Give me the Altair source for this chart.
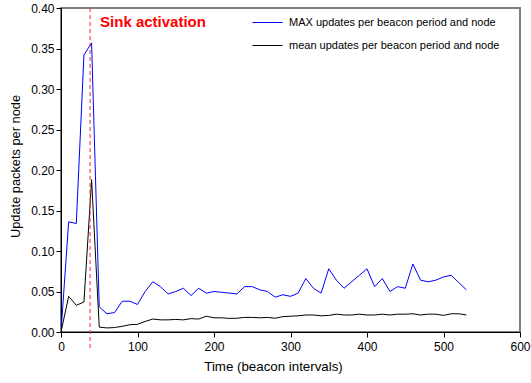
import altair as alt
import pandas as pd

# Time axis (beacon intervals) and the two measured series
time = list(range(0, 540, 10))

max_updates = [
    0.0, 0.136, 0.134, 0.342, 0.357, 0.031, 0.0225, 0.024, 0.038, 0.038,
    0.034, 0.050, 0.062, 0.056, 0.047, 0.050, 0.054, 0.045, 0.054, 0.048,
    0.050, 0.049, 0.048, 0.047, 0.056, 0.056, 0.052, 0.050, 0.043, 0.046,
    0.044, 0.048, 0.066, 0.054, 0.048, 0.078, 0.064, 0.054, 0.062, 0.070,
    0.078, 0.056, 0.066, 0.050, 0.056, 0.054, 0.084, 0.064, 0.062, 0.064,
    0.068, 0.070, 0.061, 0.052,
]

mean_updates = [
    0.0, 0.044, 0.033, 0.037, 0.188, 0.006, 0.005, 0.0055, 0.007, 0.009,
    0.0095, 0.013, 0.016, 0.015, 0.015, 0.0155, 0.015, 0.0165, 0.016, 0.0195,
    0.0175, 0.0175, 0.0168, 0.017, 0.018, 0.018, 0.0175, 0.018, 0.017, 0.019,
    0.0195, 0.020, 0.021, 0.021, 0.020, 0.0205, 0.022, 0.021, 0.021, 0.022,
    0.021, 0.021, 0.022, 0.021, 0.022, 0.022, 0.0225, 0.021, 0.022, 0.022,
    0.0205, 0.0225, 0.0225, 0.021,
]

series_names = [
    "MAX updates per beacon period and node",
    "mean updates per beacon period and node",
]
series_colors = ["#0000ff", "#000000"]

sink_time = 38
sink_label = "Sink activation"

x_ticks = list(range(0, 625, 25))
y_ticks = [round(i * 0.025, 3) for i in range(17)]

FONT = "Liberation Sans"

df = pd.concat([
    pd.DataFrame({"time": time, "value": max_updates, "series": series_names[0]}),
    pd.DataFrame({"time": time, "value": mean_updates, "series": series_names[1]}),
])

x_scale = alt.Scale(domain=[0, 600], nice=False)
y_scale = alt.Scale(domain=[0, 0.4], nice=False)

axis_style = dict(
    grid=False,
    domainColor="black",
    tickColor="black",
    tickSize=5,
    labelFont=FONT,
    labelFontSize=12,
    labelColor="black",
    titleFont=FONT,
    titleFontWeight="normal",
    titleColor="black",
)

lines = alt.Chart(df).mark_line(strokeWidth=1, clip=True).encode(
    x=alt.X(
        "time:Q",
        scale=x_scale,
        title="Time (beacon intervals)",
        axis=alt.Axis(
            values=x_ticks,
            labelExpr="datum.value % 100 == 0 ? datum.label : ''",
            labelFlush=False,
            labelPadding=4,
            titlePadding=7,
            titleFontSize=13.3,
            titleX=212,
            **axis_style,
        ),
    ),
    y=alt.Y(
        "value:Q",
        scale=y_scale,
        title="Update packets per node",
        axis=alt.Axis(
            values=y_ticks,
            labelExpr="round(datum.value * 1000) % 50 == 0 ? format(datum.value, '.2f') : ''",
            labelPadding=2,
            titlePadding=8,
            titleFontSize=12.8,
            titleY=158,
            **axis_style,
        ),
    ),
    color=alt.Color(
        "series:N",
        scale=alt.Scale(domain=series_names, range=series_colors),
        sort=series_names,
        legend=alt.Legend(
            title=None,
            orient="none",
            legendX=191,
            legendY=4,
            symbolType="stroke",
            symbolSize=900,
            symbolStrokeWidth=1,
            clipHeight=21,
            rowPadding=2,
            labelOffset=6,
            labelFontSize=11,
            labelFont=FONT,
            labelColor="black",
            labelLimit=400,
            padding=0,
        ),
    ),
)

sink = pd.DataFrame({"time": [sink_time], "label": [sink_label]})

sink_rule = alt.Chart(sink).mark_rule(
    color="#e83030", strokeDash=[4, 3], strokeWidth=1
).encode(
    x=alt.X("time:Q", scale=x_scale),
    y=alt.datum(0.4),
    y2=alt.datum(-0.02),
)

sink_text = alt.Chart(sink).mark_text(
    align="left", baseline="middle", dx=10, fontSize=15,
    fontWeight="bold", font=FONT, color="#ff0000",
).encode(
    x=alt.X("time:Q", scale=x_scale),
    y=alt.datum(0.3825),
    text="label:N",
)

chart = alt.layer(lines, sink_rule, sink_text).properties(
    width=459,
    height=324,
    autosize=alt.AutoSizeParams(type="none"),
    padding={"left": 61, "top": 8, "right": 11, "bottom": 51},
    background="white",
).configure_view(
    stroke="#808080",
    strokeWidth=2,
)

chart.save("out.html", embed_options={"renderer": "svg", "actions": False})
